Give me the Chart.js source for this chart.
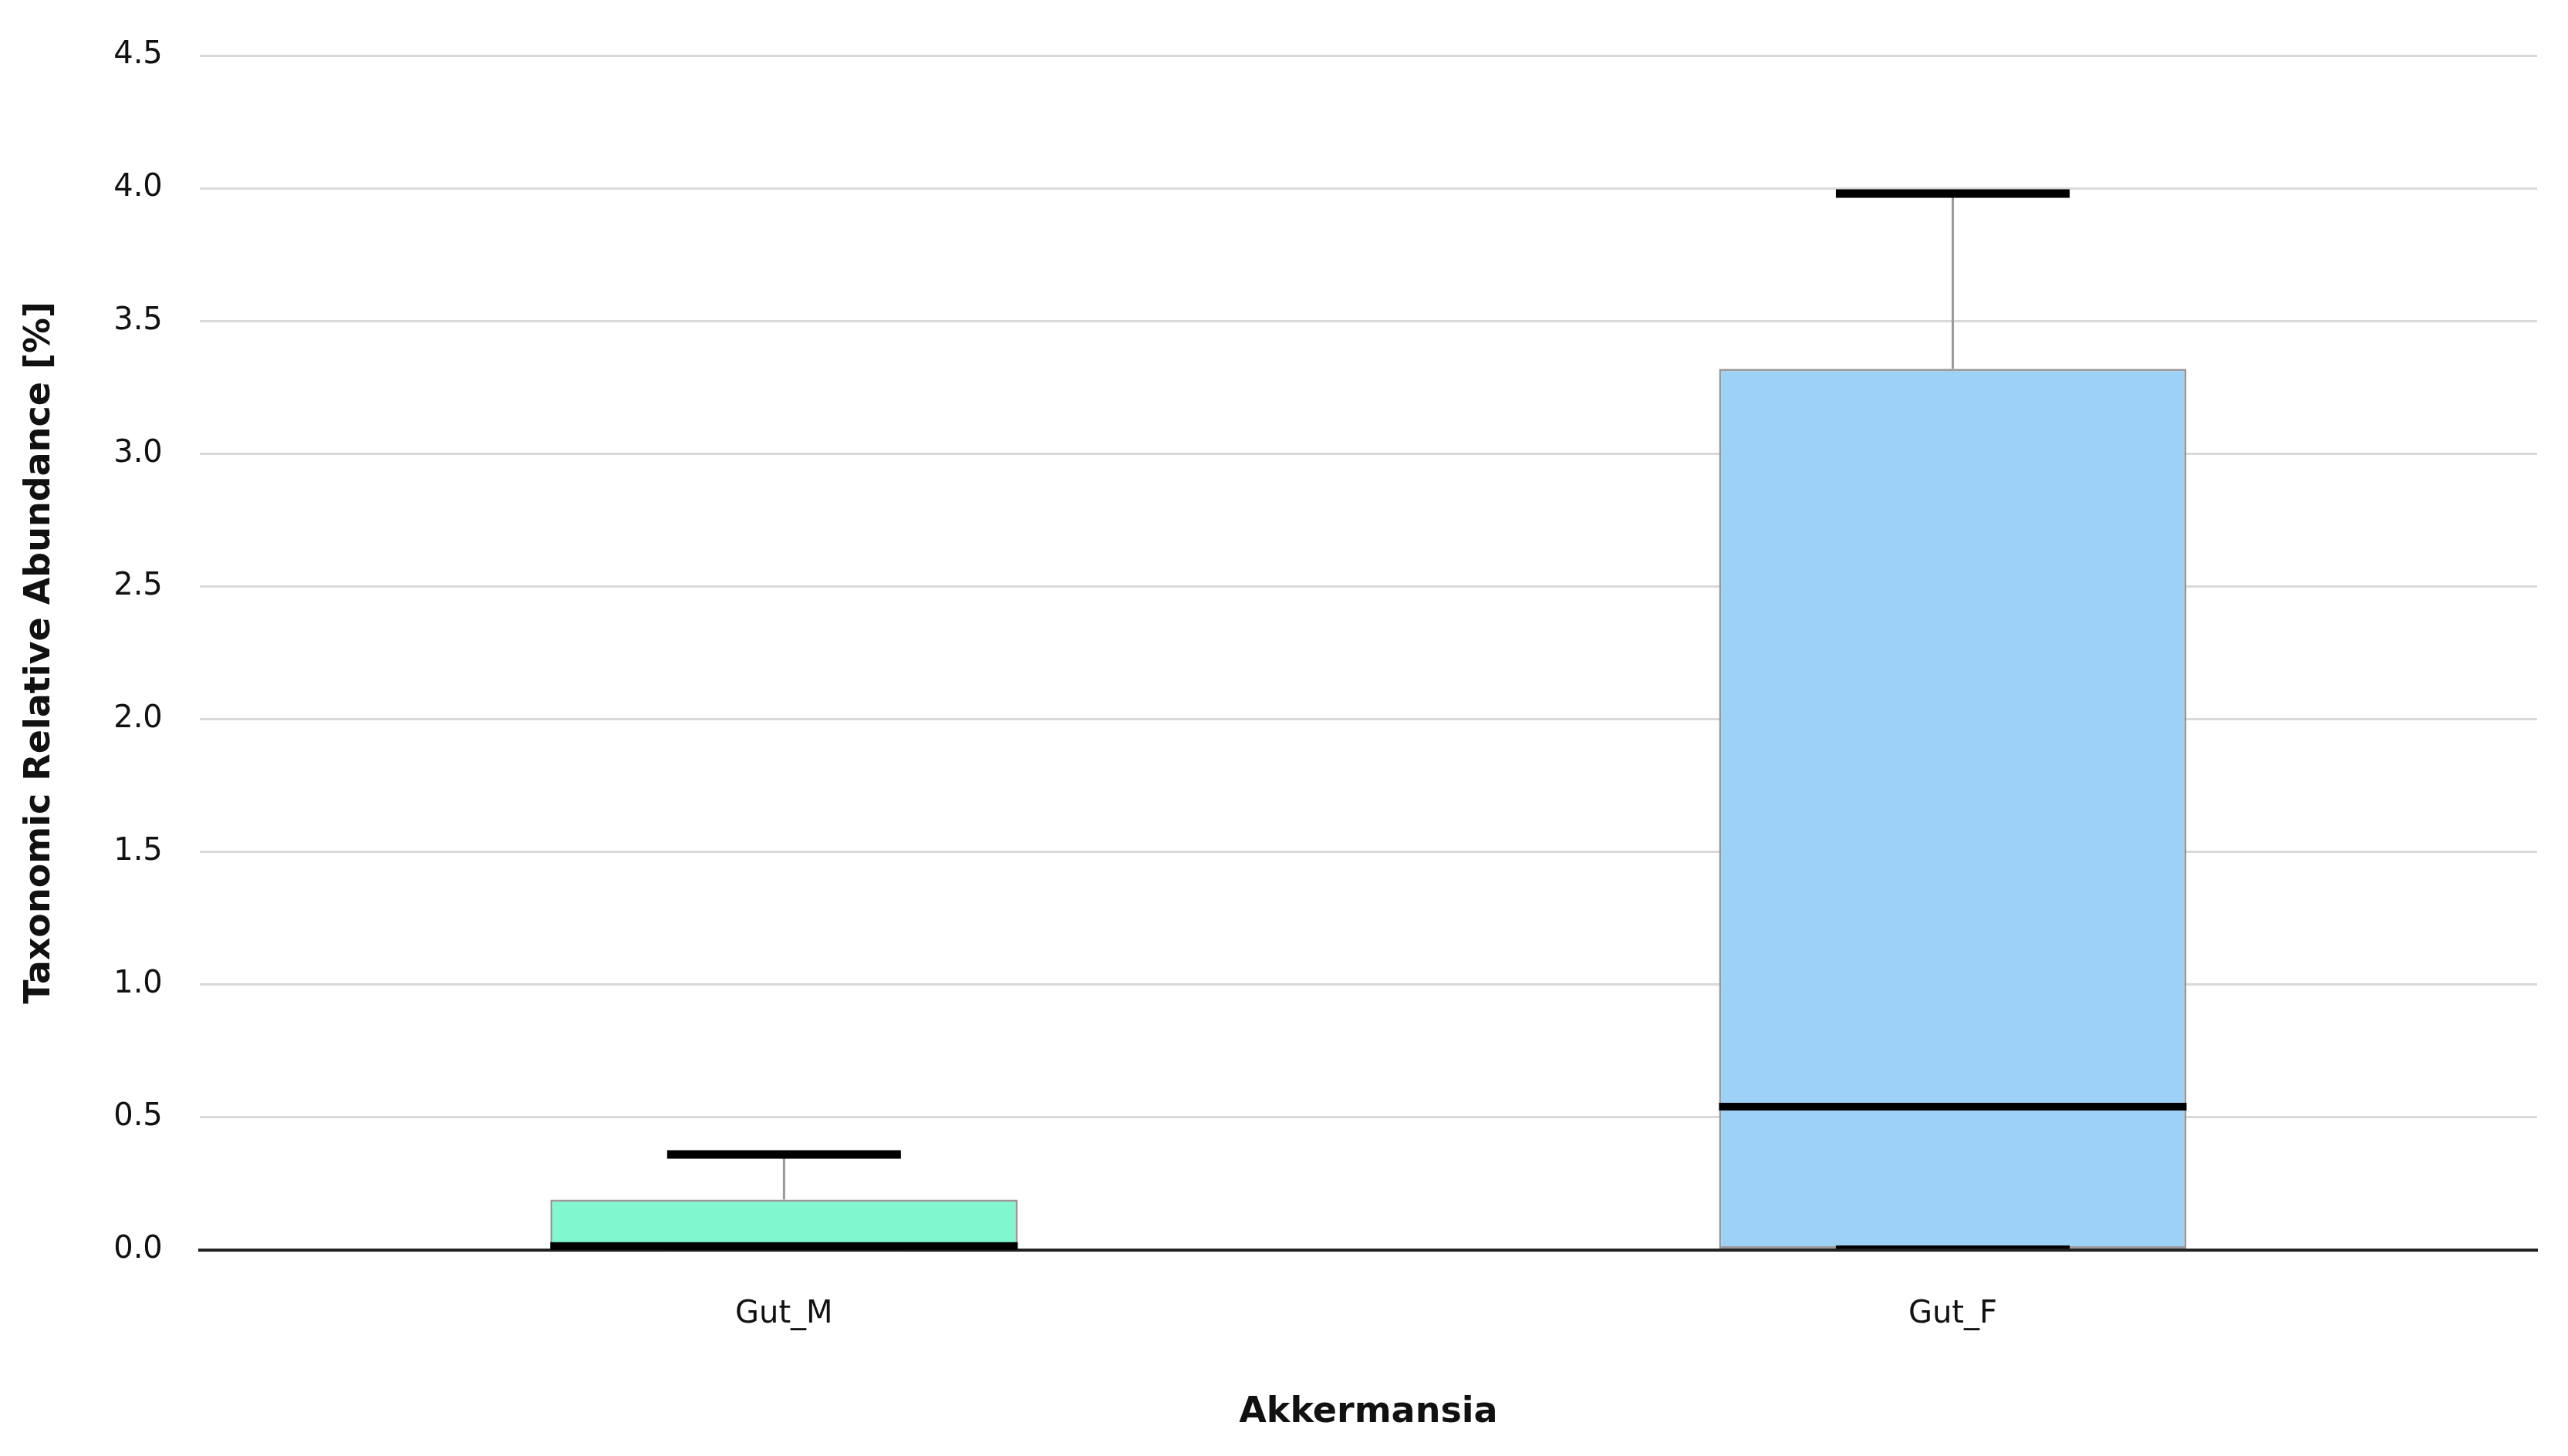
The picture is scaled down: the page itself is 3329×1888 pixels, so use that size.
<!DOCTYPE html>
<html>
<head>
<meta charset="utf-8">
<script src="https://cdn.jsdelivr.net/npm/chart.js@4"></script>
<style>
html, body { margin: 0; padding: 0; background: #fff; }
#wrap { width: 3329px; height: 1888px; }
</style>
</head>
<body>
<div id="wrap"><canvas id="boxChart"></canvas></div>
<script>
const categories = ['Gut_M', 'Gut_F'];
const minValues = [0.0, 0.005];
const q1Values = [0.0, 0.005];
const medianValues = [0.015, 0.54];
const q3Values = [0.19, 3.32];
const maxValues = [0.36, 3.98];
const boxColors = ['#80f7cf', '#9dd1f5'];
const yTicks = [0, 0.5, 1.0, 1.5, 2.0, 2.5, 3.0, 3.5, 4.0, 4.5];

const whiskerPlugin = {
    id: 'whiskers',
    afterDatasetsDraw(chart) {
        const c = chart.ctx;
        const x = chart.scales.x;
        const y = chart.scales.y;
        const meta = chart.getDatasetMeta(0);
        categories.forEach((cat, i) => {
            const cx = x.getPixelForValue(i);
            const boxW = meta.data[i].width;
            const capW = boxW / 2;
            c.save();
            c.strokeStyle = '#999';
            c.lineWidth = 3;
            c.beginPath();
            c.moveTo(cx, y.getPixelForValue(q3Values[i]));
            c.lineTo(cx, y.getPixelForValue(maxValues[i]));
            c.stroke();
            c.strokeStyle = '#000';
            c.lineWidth = 11;
            c.beginPath();
            c.moveTo(cx - capW / 2, y.getPixelForValue(maxValues[i]));
            c.lineTo(cx + capW / 2, y.getPixelForValue(maxValues[i]));
            c.stroke();
            c.lineWidth = 4;
            c.beginPath();
            c.moveTo(cx - capW / 2, y.getPixelForValue(minValues[i]) - 2);
            c.lineTo(cx + capW / 2, y.getPixelForValue(minValues[i]) - 2);
            c.stroke();
            c.lineWidth = 10;
            c.beginPath();
            c.moveTo(cx - boxW / 2, y.getPixelForValue(medianValues[i]));
            c.lineTo(cx + boxW / 2, y.getPixelForValue(medianValues[i]));
            c.stroke();
            c.restore();
        });
    }
};

new Chart(document.getElementById('boxChart'), {
    type: 'bar',
    data: {
        labels: categories,
        datasets: [{
            data: categories.map((c, i) => [q1Values[i], q3Values[i]]),
            backgroundColor: boxColors,
            borderColor: '#999',
            borderWidth: 3,
            borderSkipped: false,
            categoryPercentage: 0.4,
            barPercentage: 1.0
        }]
    },
    options: {
        responsive: true,
        maintainAspectRatio: false,
        animation: false,
        layout: { padding: { top: 36, right: 40, left: 20, bottom: 24 } },
        plugins: { legend: { display: false }, tooltip: { enabled: false } },
        scales: {
            x: {
                grid: { display: false, drawTicks: true },
                border: { color: '#222', width: 4 },
                ticks: { color: '#111', font: { family: 'DejaVu Sans', size: 40 }, padding: 52 },
                title: { display: true, text: 'Akkermansia', color: '#111', font: { family: 'DejaVu Sans', size: 46, weight: 'bold' }, padding: { top: 24 } }
            },
            y: {
                min: 0,
                max: 4.5,
                afterBuildTicks: (axis) => { axis.ticks = yTicks.map(v => ({ value: v })); },
                grid: { color: '#d9d9d9', lineWidth: 3, drawTicks: false },
                border: { display: false },
                ticks: { color: '#111', font: { family: 'DejaVu Sans', size: 40 }, padding: 48, callback: (v) => v.toFixed(1) },
                title: { display: true, text: 'Taxonomic Relative Abundance [%]', color: '#111', font: { family: 'DejaVu Sans', size: 46, weight: 'bold' }, padding: { bottom: 20 } }
            }
        }
    },
    plugins: [whiskerPlugin]
});
</script>
</body>
</html>
